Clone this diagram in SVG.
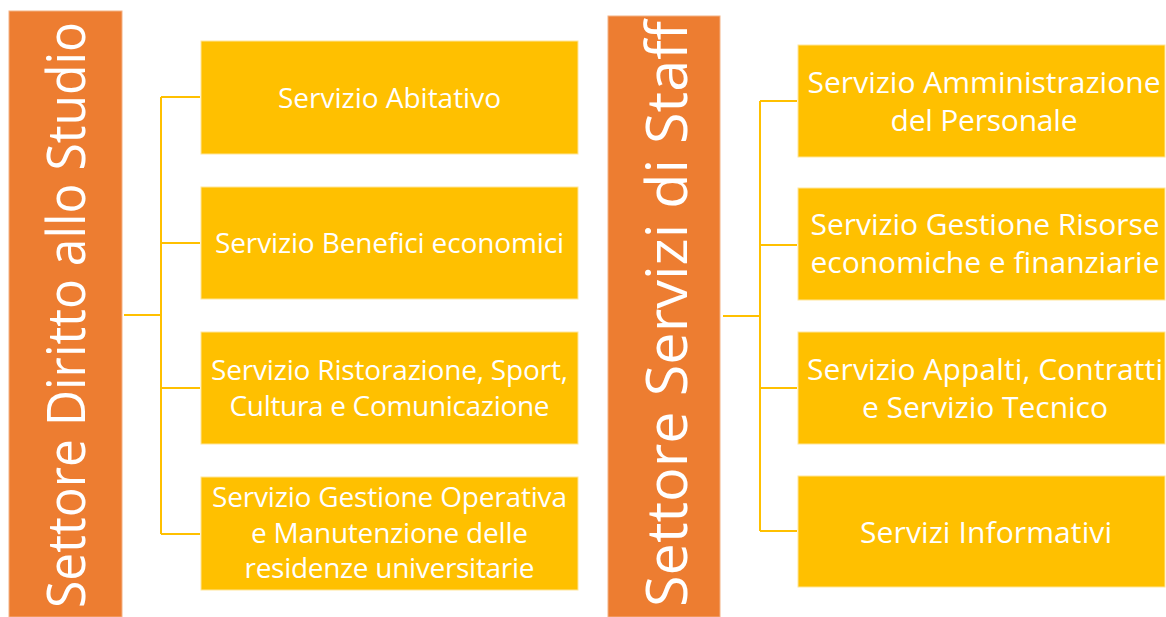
<svg xmlns="http://www.w3.org/2000/svg" width="1166" height="617" viewBox="0 0 1166 617">
<style>
.sector{fill:#ED7D31;stroke:#F4B183;stroke-width:1}
.box{fill:#FFC000;stroke:#FFE699;stroke-width:1}
.title{font-family:"Open Sans","Liberation Sans",sans-serif;fill:#FFFFFF;text-anchor:middle}
.lbl{font-family:"Open Sans","Liberation Sans",sans-serif;fill:#FFFFFF;text-anchor:middle;font-size:28px}
.lblr{font-family:"Open Sans","Liberation Sans",sans-serif;fill:#FFFFFF;text-anchor:middle;font-size:30px}
.conn{fill:none;stroke:#FFC000;stroke-width:2}
</style>
<rect width="1166" height="617" fill="#FFFFFF"/>
<g id="connectors">
<path class="conn" d="M124,315 H161 M161,97 V534 M161,97 H200 M161,243 H200 M161,388 H200 M161,534 H200"/>
<path class="conn" d="M723,316 H760 M760,101 V531 M760,101 H797 M760,245 H797 M760,388 H797 M760,531 H797"/>
</g>
<g id="settore-diritto">
<rect class="sector" x="9" y="11" width="113" height="606"/>
<text class="title" font-size="50" transform="translate(85,315) rotate(-90) scale(1,1.07)" textLength="586" lengthAdjust="spacingAndGlyphs">Settore Diritto allo Studio</text>
</g>
<g id="servizio-abitativo">
<rect class="box" x="201" y="41" width="377" height="113"/>
<text class="lbl" x="389.5" y="108" textLength="223">Servizio Abitativo</text>
</g>
<g id="servizio-benefici">
<rect class="box" x="201" y="187" width="377" height="112"/>
<text class="lbl" x="389.5" y="253" textLength="349">Servizio Benefici economici</text>
</g>
<g id="servizio-ristorazione">
<rect class="box" x="201" y="332" width="377" height="112"/>
<text class="lbl" x="389.5" y="380" textLength="357">Servizio Ristorazione, Sport,</text>
<text class="lbl" x="389.5" y="416" textLength="320">Cultura e Comunicazione</text>
</g>
<g id="servizio-gestione-operativa">
<rect class="box" x="201" y="477" width="377" height="113"/>
<text class="lbl" x="389.5" y="507" textLength="355">Servizio Gestione Operativa</text>
<text class="lbl" x="389.5" y="543" textLength="277">e Manutenzione delle</text>
<text class="lbl" x="389.5" y="578" textLength="290">residenze universitarie</text>
</g>
<g id="settore-servizi-staff">
<rect class="sector" x="608" y="16" width="112" height="601"/>
<text class="title" font-size="57" transform="translate(687,314) rotate(-90)" textLength="586" lengthAdjust="spacingAndGlyphs">Settore Servizi di Staff</text>
</g>
<g id="servizio-amministrazione">
<rect class="box" x="798" y="45" width="367" height="112"/>
<text class="lblr" x="984" y="93" textLength="353">Servizio Amministrazione</text>
<text class="lblr" x="984" y="131" textLength="187">del Personale</text>
</g>
<g id="servizio-risorse">
<rect class="box" x="798" y="188" width="367" height="112"/>
<text class="lblr" x="985" y="235" textLength="349">Servizio Gestione Risorse</text>
<text class="lblr" x="985" y="273" textLength="349">economiche e finanziarie</text>
</g>
<g id="servizio-appalti">
<rect class="box" x="798" y="332" width="367" height="112"/>
<text class="lblr" x="985" y="380" textLength="356">Servizio Appalti, Contratti</text>
<text class="lblr" x="985" y="418" textLength="246">e Servizio Tecnico</text>
</g>
<g id="servizi-informativi">
<rect class="box" x="798" y="476" width="367" height="111"/>
<text class="lblr" x="986" y="543" textLength="252">Servizi Informativi</text>
</g>
</svg>
